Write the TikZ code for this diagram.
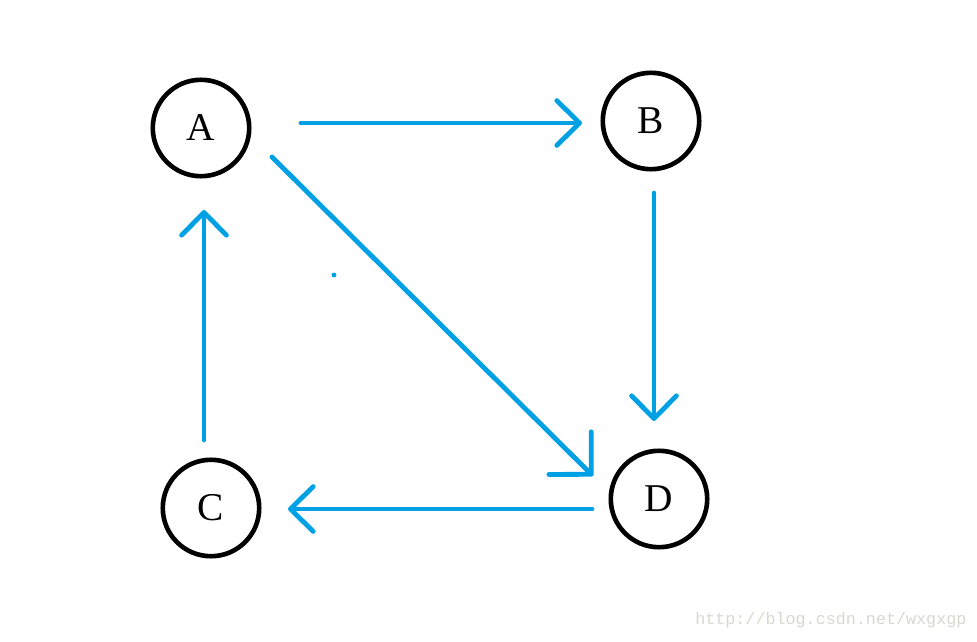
\documentclass[tikz,border=0pt]{standalone}
\usepackage{fontspec}
\setmainfont{Liberation Serif}
\newfontfamily\wmfont{Liberation Mono}
\usetikzlibrary{arrows.meta,calc}
\definecolor{edgeblue}{RGB}{0,160,228}
\definecolor{wmgray}{RGB}{216,216,208}

\begin{document}
\begin{tikzpicture}[x=0.025cm, y=-0.025cm,
  vtx/.style={circle, draw=black, line width=0.115cm, minimum size=2.41cm,
    inner sep=0pt, font=\fontsize{28}{30}\selectfont},
  arr/.style={draw=edgeblue, line width=0.12cm, line cap=round,
    -{Straight Barb[length=0.57cm, width=1.12cm, round]}}]
  \useasboundingbox (0,0) rectangle (977,642);
  % ---- vertices ----
  \node[vtx] (A) at (201,128) {A};
  \node[vtx] (B) at (651,121) {B};
  \node[vtx] (C) at (211,508) {C};
  \node[vtx] (D) at (659,499) {D};
  % ---- edges ----
  \draw[arr] ($(A)+(100,-5)$) -- ($(B)+(-69,2)$);
  \draw[arr] ($(B)+(3,72)$) -- ($(D)+(-5,-78)$);
  \draw[arr, -{Straight Barb[length=0.75cm, width=1.5cm, round]}]
    ($(A)+(71,29)$) -- ($(D)+(-66,-23)$);
  \draw[arr] ($(D)+(-67,10)$) -- ($(C)+(77,1)$);
  \draw[arr] ($(C)+(-7,-68)$) -- ($(A)+(3,82)$);
  \fill[edgeblue] (334,275) circle (2.4);
  % ---- watermark ----
  \node[anchor=base west, inner sep=0pt, text=wmgray,
    font=\wmfont\fontsize{11.9}{13}\selectfont] (wm) at (695,624)
    {http://blog.csdn.net/wxgxgp};
\end{tikzpicture}
\end{document}
